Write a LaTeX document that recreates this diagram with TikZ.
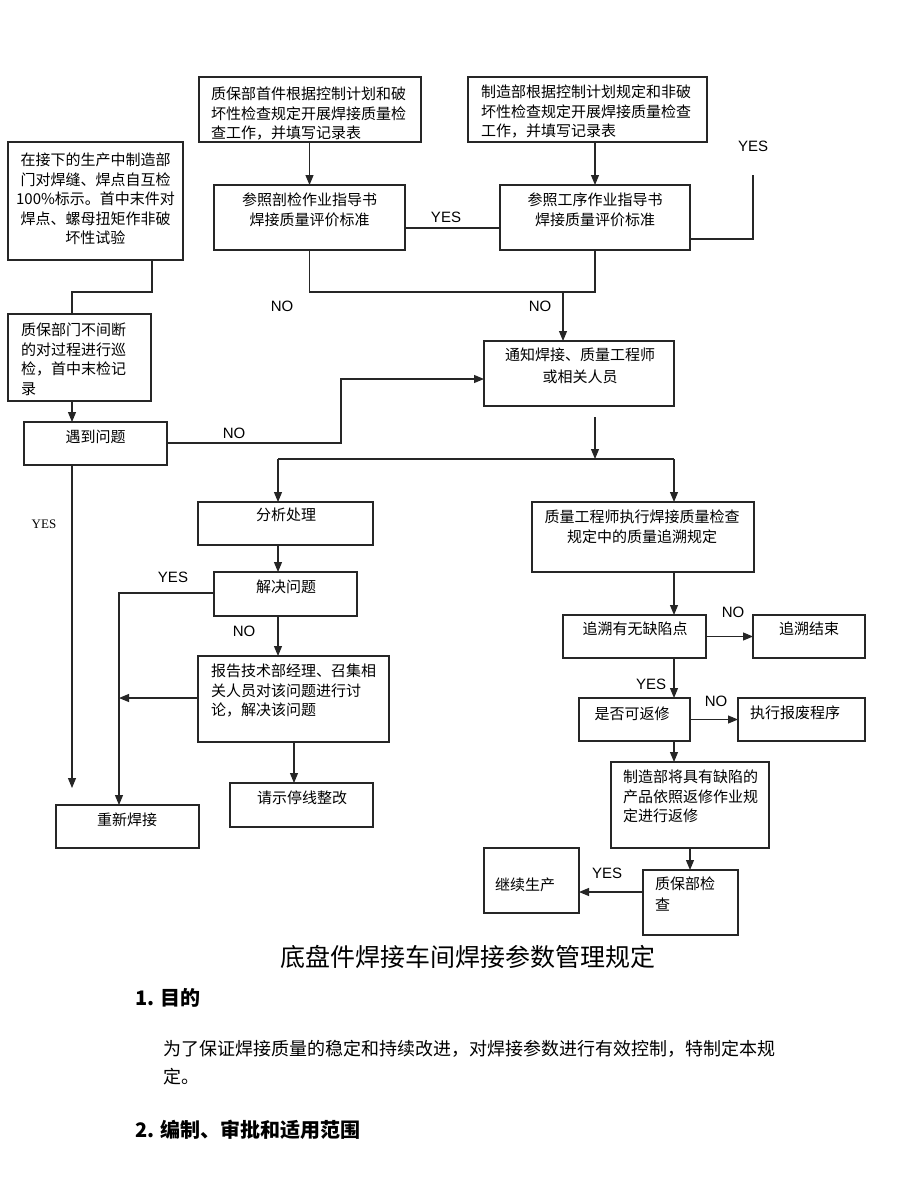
\documentclass[tikz,border=0pt]{standalone}
\usepackage{fontspec}
\newfontfamily\cjk{Noto Sans CJK SC}
\newfontfamily\arialf{Liberation Sans}
\newfontfamily\timesf{Liberation Serif}
\usetikzlibrary{arrows.meta,calc}

\tikzset{
 boxst/.style={draw=black!85, line width=1.1pt, inner sep=0pt, outer sep=0pt, rectangle},
 tx/.style={inner sep=0pt, font=\cjk\fontsize{15}{19.5}\selectfont, text=black},
 lbl/.style={inner sep=0pt, font=\arialf\fontsize{15}{18}\selectfont},
 slbl/.style={inner sep=0pt, font=\timesf\fontsize{13}{15}\selectfont},
 conn/.style={draw=black!85, line width=1.1pt},
 arr/.style={conn, -{Triangle[length=10pt,width=8pt]}},
}
\newcommand{\mkbox}[5]{\node[boxst, minimum width={#4pt-#2pt}, minimum height={#5pt-#3pt}] (#1) at ({(#2+#4)/2},{(#3+#5)/2}) {};}

\begin{document}
\begin{tikzpicture}[x=1pt,y=-1pt]
\path[fill=white] (0,0) rectangle (920,1191);
\useasboundingbox (0,0) rectangle (920,1191);

% boxes
\mkbox{A}{8}{142}{183}{260}
\mkbox{B}{199}{77}{421}{142}
\mkbox{C}{214}{185}{405}{250}
\mkbox{D}{468}{77}{707}{142}
\mkbox{E}{500}{185}{690}{250}
\mkbox{F}{484}{341}{674}{406}
\mkbox{G}{8}{314}{151}{401}
\mkbox{H}{24}{422}{167}{465}
\mkbox{I}{198}{502}{373}{545}
\mkbox{J}{532}{502}{754}{572}
\mkbox{K}{214}{572}{357}{616}
\mkbox{L}{198}{656}{389}{742}
\mkbox{M}{230}{783}{373}{827}
\mkbox{N}{56}{805}{199}{848}
\mkbox{O}{563}{615}{706}{658}
\mkbox{P}{753}{615}{865}{658}
\mkbox{Q}{579}{698}{690}{741}
\mkbox{R}{738}{698}{865}{741}
\mkbox{S}{611}{762}{769}{848}
\mkbox{T}{643}{870}{738}{935}
\mkbox{U}{484}{848}{579}{913}

% box texts
\node[tx, anchor=north, align=center] (At) at (95.5,153) {在接下的生产中制造部\\门对焊缝、焊点自互检\\100\%标示。首中末件对\\焊点、螺母扭矩作非破\\坏性试验};
\node[tx, anchor=north west, align=left] (Bt) at (211,87) {质保部首件根据控制计划和破\\坏性检查规定开展焊接质量检\\查工作，并填写记录表};
\node[tx, anchor=north, align=center] (Ct) at (309.5,193) {参照剖检作业指导书\\焊接质量评价标准};
\node[tx, anchor=north west, align=left] (Dt) at (481,85) {制造部根据控制计划规定和非破\\坏性检查规定开展焊接质量检查\\工作，并填写记录表};
\node[tx, anchor=north, align=center] (Et) at (595,193) {参照工序作业指导书\\焊接质量评价标准};
\node[tx, anchor=north, align=center, font=\cjk\fontsize{15}{22}\selectfont] (Ft) at (580,348) {通知焊接、质量工程师\\或相关人员};
\node[tx, anchor=north west, align=left] (Gt) at (21,323) {质保部门不间断\\的对过程进行巡\\检，首中末检记\\录};
\node[tx, anchor=north] (Ht) at (95.5,430) {遇到问题};
\node[tx, anchor=north] (It) at (286,508) {分析处理};
\node[tx, anchor=north, align=center] (Jt) at (642,510) {质量工程师执行焊接质量检查\\规定中的质量追溯规定};
\node[tx, anchor=north] (Kt) at (286,580) {解决问题};
\node[tx, anchor=north west, align=left] (Lt) at (211,664) {报告技术部经理、召集相\\关人员对该问题进行讨\\论，解决该问题};
\node[tx, anchor=north] (Mt) at (302,791) {请示停线整改};
\node[tx, anchor=north] (Nt) at (127,813) {重新焊接};
\node[tx, anchor=north] (Ot) at (635,622) {追溯有无缺陷点};
\node[tx, anchor=north] (Pt) at (809,622) {追溯结束};
\node[tx, anchor=north] (Qt) at (632,707) {是否可返修};
\node[tx, anchor=north] (Rt) at (795,706) {执行报废程序};
\node[tx, anchor=north west, align=left] (St) at (623,770) {制造部将具有缺陷的\\产品依照返修作业规\\定进行返修};
\node[tx, anchor=north west, align=left, font=\cjk\fontsize{15}{21}\selectfont] (Tt) at (655,877) {质保部检\\查};
\node[tx, anchor=north] (Ut) at (525,878) {继续生产};

% helper coordinates
\coordinate (yY) at (0,228);
\coordinate (yY2) at (0,239);
\coordinate (eYtop) at (753,175);
\coordinate (jn) at (563,292);
\coordinate (aL) at (152,292);
\coordinate (gx) at (72,0);
\coordinate (hN) at (341,443);
\coordinate (fy) at (0,379);
\coordinate (yEnd) at (72,788);
\coordinate (fs) at (595,0);
\coordinate (hz) at (0,459);
\coordinate (ix) at (278,0);
\coordinate (jx) at (674,0);
\coordinate (nx) at (119,0);
\coordinate (ky) at (0,593);
\coordinate (ly) at (0,698);
\coordinate (mx) at (294,0);
\coordinate (ty) at (0,892);

% connectors top
\draw[arr] (B.south -| C.north) -- (C.north);
\draw[arr] (E.north |- D.south) -- (E.north);
\draw[conn] (C.east |- yY) -- (E.west |- yY);
\draw[conn] (E.east |- yY2) -- (eYtop |- yY2) -- (eYtop);
\draw[conn] (C.south) -- (C.south |- jn) -- (E.south |- jn) -- (E.south);
\draw[arr] (jn) -- (jn |- F.north);
% left column
\draw[conn] (A.south -| aL) -- (aL) -- (gx |- aL) -- (gx |- G.north);
\draw[arr] (gx |- G.south) -- (gx |- H.north);
\draw[arr] (H.east |- hN) -- (hN) -- (hN |- fy) -- (F.west |- fy);
\draw[arr] (gx |- H.south) -- (yEnd);
% middle
\draw[arr, shorten <=11pt] (F.south -| fs) -- (fs |- hz);
\draw[conn] (ix |- hz) -- (jx |- hz);
\draw[arr] (ix |- hz) -- (ix |- I.north);
\draw[arr] (jx |- hz) -- (jx |- J.north);
\draw[arr] (ix |- I.south) -- (ix |- K.north);
\draw[arr] (K.west |- ky) -- (nx |- ky) -- (nx |- N.north);
\draw[arr] (ix |- K.south) -- (ix |- L.north);
\draw[arr] (L.west |- ly) -- (nx |- ly);
\draw[arr] (mx |- L.south) -- (mx |- M.north);
% right
\draw[arr] (jx |- J.south) -- (jx |- O.north);
\draw[arr] (O.east) -- (P.west);
\draw[arr] (jx |- O.south) -- (jx |- Q.north);
\draw[arr] (Q.east) -- (R.west);
\draw[arr] (jx |- Q.south) -- (jx |- S.north);
\draw[arr] (S.south) -- (S.south |- T.north);
\draw[arr] (T.west |- ty) -- (U.east |- ty);

% labels
\node[lbl] (l1) at (446,217) {YES};
\node[lbl] (l2) at (753,146) {YES};
\node[lbl] (l3) at (282,306) {NO};
\node[lbl] (l4) at (540,306) {NO};
\node[lbl] (l5) at (234,433) {NO};
\node[slbl] (l6) at (44,524) {YES};
\node[lbl] (l7) at (173,577) {YES};
\node[lbl] (l8) at (244,631) {NO};
\node[lbl] (l9) at (733,612) {NO};
\node[lbl] (l10) at (651,684) {YES};
\node[lbl] (l11) at (716,701) {NO};
\node[lbl] (l12) at (607,873) {YES};

% document text
\node[inner sep=0pt, font=\cjk\fontsize{25}{30}\selectfont] (title) at (468,957) {底盘件焊接车间焊接参数管理规定};
\node[inner sep=0pt, anchor=west, font=\cjk\bfseries\fontsize{20}{24}\selectfont] (h1) at (135,998) {1. 目的};
\node[inner sep=0pt, anchor=north west, align=left, font=\cjk\fontsize{18}{28}\selectfont] (p1) at (163,1040) {为了保证焊接质量的稳定和持续改进，对焊接参数进行有效控制，特制定本规\\定。};
\node[inner sep=0pt, anchor=west, font=\cjk\bfseries\fontsize{20}{24}\selectfont] (h2) at (135,1130) {2. 编制、审批和适用范围};
\end{tikzpicture}
\end{document}
